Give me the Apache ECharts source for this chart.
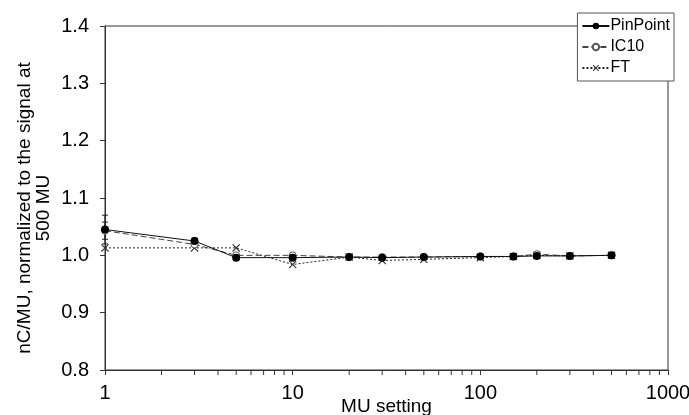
<!DOCTYPE html>
<html><head><meta charset="utf-8">
<script src="https://cdn.jsdelivr.net/npm/echarts@6/dist/echarts.min.js"></script>
<style>html,body{margin:0;padding:0;background:#fff}#c{width:689px;height:415px}</style>
</head><body><div id="c"></div>
<script>
var mu = [1, 3, 5, 10, 20, 30, 50, 100, 150, 200, 300, 500];
var pinpoint = [1.045, 1.025, 0.996, 0.996, 0.997, 0.996, 0.997, 0.998, 0.998, 0.999, 0.999, 1.0];
var ic10 = [1.043, 1.019, 1.0, 1.0, 0.997, 0.997, 0.997, 0.998, 0.998, 1.002, 0.999, 1.0];
var ft = [1.013, 1.013, 1.013, 0.984, 0.997, 0.991, 0.993, 0.996, 0.998, 1.0, 0.999, 1.0];
var pinErr = [0.025, 0.005, 0.005, 0.002, 0.002, 0.002, 0.002, 0.002, 0.002, 0.002, 0.002, 0.002];
var ic10Err = [0.015, 0.003, 0.002, 0.002, 0.002, 0.002, 0.002, 0.002, 0.002, 0.002, 0.002, 0.002];
var minorTicks = [2,3,4,5,6,7,8,9,20,30,40,50,60,70,80,90,200,300,400,500,600,700,800,900];

function pairs(ys){ return mu.map(function(x,i){ return [x, ys[i]]; }); }
function errs(ys, e){ return mu.map(function(x,i){ return [x, ys[i]-e[i], ys[i]+e[i]]; }); }

function errRender(params, api){
  var x = api.value(0);
  var lo = api.coord([x, api.value(1)]);
  var hi = api.coord([x, api.value(2)]);
  var w = 3;
  return {type:'group', children:[
    {type:'line', shape:{x1:lo[0],y1:lo[1],x2:hi[0],y2:hi[1]}, style:{stroke:'#222',lineWidth:1}},
    {type:'line', shape:{x1:lo[0]-w,y1:lo[1],x2:lo[0]+w,y2:lo[1]}, style:{stroke:'#222',lineWidth:1}},
    {type:'line', shape:{x1:hi[0]-w,y1:hi[1],x2:hi[0]+w,y2:hi[1]}, style:{stroke:'#222',lineWidth:1}}
  ]};
}
var xSym = 'path://M0,1 L1,0 L5,4 L9,0 L10,1 L6,5 L10,9 L9,10 L5,6 L1,10 L0,9 L4,5 Z';
var font = 'Liberation Sans, Arial, sans-serif';
var chart = echarts.init(document.getElementById('c'));
chart.setOption({
  animation:false,
  backgroundColor:'#fff',
  textStyle:{fontFamily:font},
  grid:{left:105, right:21, top:26, bottom:45, show:true, borderColor:'#333', borderWidth:1,
        backgroundColor:'transparent', containLabel:false, outerBoundsMode:'none'},
  legend:{
    right:15, top:13, orient:'vertical', itemGap:5, itemWidth:27, itemHeight:8,
    backgroundColor:'#fff', borderColor:'#555', borderWidth:1, padding:[5,4,5,4],
    textStyle:{fontSize:16, color:'#000', fontFamily:font, padding:[0,0,0,-4]},
    data:['PinPoint','IC10','FT']
  },
  xAxis:{
    type:'log', logBase:10, min:1, max:1000,
    name:'MU setting', nameLocation:'middle', nameGap:27, nameMoveOverlap:false,
    nameTextStyle:{fontSize:19, color:'#000', fontFamily:font, verticalAlign:'top'},
    axisLine:{lineStyle:{color:'#333', width:1}},
    axisTick:{show:true, inside:false, length:5, lineStyle:{color:'#333'}},
    axisLabel:{fontSize:20, color:'#000', margin:13, fontFamily:font, formatter:function(v){return String(Math.round(v));}},
    splitLine:{show:false}
  },
  yAxis:{
    type:'value', min:0.8, max:1.4, interval:0.1,
    name:'nC/MU, normalized to the signal at\n500 MU', nameLocation:'middle', nameGap:52, nameMoveOverlap:false,
    nameTextStyle:{fontSize:19, color:'#000', lineHeight:19, fontFamily:font, padding:[0,20,0,0]},
    axisLine:{show:true, lineStyle:{color:'#333', width:1}},
    axisTick:{show:true, length:5, lineStyle:{color:'#333'}},
    axisLabel:{fontSize:20, color:'#000', margin:16, fontFamily:font, formatter:function(v){return v.toFixed(1);}},
    splitLine:{show:false}
  },
  series:[
    {type:'custom', name:'minor', silent:true, clip:false, data:minorTicks.map(function(v){return [v];}),
     encode:{x:0}, renderItem:function(p, api){
       var c = api.coord([api.value(0), 0.8]);
       return {type:'line', shape:{x1:c[0],y1:c[1],x2:c[0],y2:c[1]+5}, style:{stroke:'#333',lineWidth:1}};
     }},
    {type:'custom', name:'pinErr', silent:true, data:errs(pinpoint, pinErr), renderItem:errRender, encode:{x:0,y:[1,2]}, z:1},
    {type:'custom', name:'icErr', silent:true, data:errs(ic10, ic10Err), renderItem:errRender, encode:{x:0,y:[1,2]}, z:1},
    {type:'line', name:'FT', data:pairs(ft), symbol:xSym, symbolSize:8,
     lineStyle:{color:'#222', width:1, type:[2,2]}, itemStyle:{color:'#333'}, z:2},
    {type:'line', name:'IC10', data:pairs(ic10), symbol:'circle', symbolSize:7,
     lineStyle:{color:'#444', width:1, type:[6,3]}, itemStyle:{color:'#fff', borderColor:'#555', borderWidth:1}, z:3},
    {type:'line', name:'PinPoint', data:pairs(pinpoint), symbol:'circle', symbolSize:8,
     lineStyle:{color:'#111', width:1}, itemStyle:{color:'#000'}, z:4}
  ]
});
</script></body></html>
